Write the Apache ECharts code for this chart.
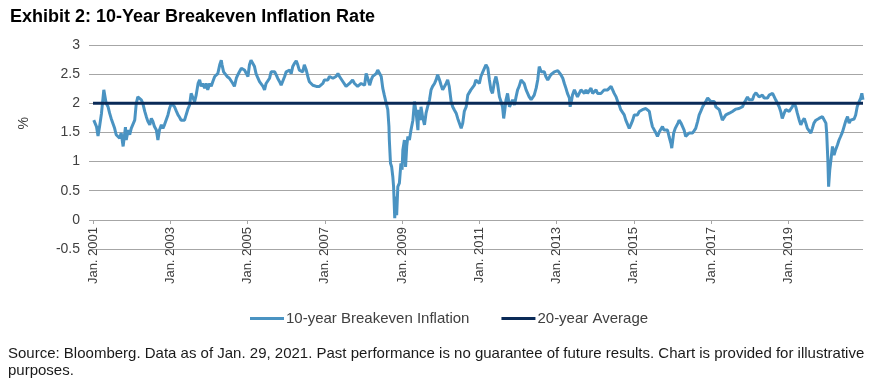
<!DOCTYPE html>
<html>
<head>
<meta charset="utf-8">
<script src="https://cdn.jsdelivr.net/npm/echarts@6/dist/echarts.min.js"></script>
<style>
html,body{margin:0;padding:0;background:#fff;}
#chart{width:873px;height:382px;}
</style>
</head>
<body>
<div id="chart"></div>
<script>
// ---- DATA (x = decimal year, y = %) ----
const be2001 = [[2001.02,1.71],[2001.09,1.60],[2001.13,1.44],[2001.17,1.60],[2001.22,1.83],[2001.28,2.23],[2001.32,2.22],[2001.34,2.00],[2001.39,1.94],[2001.43,1.83],[2001.47,1.74],[2001.52,1.71],[2001.56,1.57],[2001.60,1.46],[2001.65,1.49],[2001.69,1.40],[2001.73,1.49],[2001.78,1.26],[2001.80,1.37],[2001.84,1.59],[2001.86,1.37],[2001.91,1.54],[2001.95,1.46],[2001.99,1.57],[2002.03,1.54],[2002.08,1.71],[2002.12,2.00],[2002.16,2.11],[2002.21,2.09],[2002.25,2.06],[2002.29,2.00],[2002.34,1.86],[2002.38,1.77],[2002.42,1.69],[2002.47,1.63],[2002.51,1.74],[2002.55,1.69],[2002.59,1.60],[2002.64,1.54],[2002.68,1.37],[2002.72,1.54],[2002.77,1.63],[2002.81,1.57],[2002.85,1.63],[2002.90,1.60],[2002.94,1.80],[2002.98,1.91],[2003.03,2.00],[2003.07,2.03],[2003.11,1.94],[2003.16,1.86],[2003.20,1.80],[2003.24,1.76],[2003.28,1.71],[2003.33,1.69],[2003.37,1.71],[2003.41,1.80],[2003.46,1.91],[2003.50,1.97],[2003.54,2.17],[2003.59,2.09],[2003.63,2.03],[2003.67,2.14],[2003.72,2.34],[2003.76,2.40],[2003.80,2.29],[2003.84,2.34],[2003.89,2.26],[2003.93,2.34],[2003.97,2.23],[2004.02,2.34],[2004.06,2.29],[2004.10,2.37],[2004.15,2.46],[2004.19,2.49],[2004.23,2.51],[2004.28,2.66],[2004.32,2.74],[2004.34,2.66],[2004.38,2.54],[2004.42,2.51],[2004.47,2.46],[2004.53,2.43],[2004.58,2.40],[2004.62,2.34],[2004.66,2.29],[2004.71,2.43],[2004.75,2.49],[2004.79,2.54],[2004.84,2.60],[2004.88,2.63],[2004.92,2.57],[2004.97,2.51],[2005.01,2.46],[2005.05,2.66],[2005.09,2.74],[2005.14,2.71],[2005.18,2.63],[2005.22,2.51],[2005.27,2.43],[2005.31,2.37],[2005.35,2.34],[2005.40,2.29],[2005.44,2.23],[2005.48,2.34],[2005.53,2.37],[2005.57,2.43],[2005.61,2.54],[2005.66,2.51],[2005.70,2.54],[2005.74,2.49],[2005.78,2.43],[2005.83,2.37],[2005.87,2.31]];
const be2006 = [[2005.91,2.29],[2005.96,2.46],[2006.00,2.54],[2006.04,2.51],[2006.09,2.57],[2006.13,2.51],[2006.17,2.63],[2006.22,2.69],[2006.26,2.73],[2006.30,2.66],[2006.34,2.57],[2006.39,2.60],[2006.43,2.54],[2006.47,2.66],[2006.52,2.57],[2006.56,2.46],[2006.60,2.37],[2006.65,2.34],[2006.69,2.31],[2006.73,2.34],[2006.78,2.29],[2006.82,2.29],[2006.86,2.29],[2006.91,2.31],[2006.95,2.34],[2006.99,2.40],[2007.03,2.37],[2007.08,2.40],[2007.12,2.46],[2007.16,2.49],[2007.21,2.43],[2007.25,2.40],[2007.29,2.46],[2007.34,2.51],[2007.38,2.46],[2007.42,2.43],[2007.47,2.37],[2007.51,2.34],[2007.55,2.29],[2007.59,2.31],[2007.64,2.34],[2007.68,2.31],[2007.72,2.40],[2007.77,2.34],[2007.81,2.37],[2007.85,2.29],[2007.90,2.26],[2007.94,2.34],[2007.98,2.37],[2008.03,2.31],[2008.07,2.51],[2008.11,2.43],[2008.16,2.31],[2008.20,2.40],[2008.24,2.46],[2008.28,2.49],[2008.33,2.51],[2008.37,2.57],[2008.41,2.54],[2008.46,2.46],[2008.50,2.26],[2008.54,2.14],[2008.59,2.00],[2008.63,1.89],[2008.66,1.60],[2008.67,1.37],[2008.70,0.97],[2008.73,0.91],[2008.76,0.74],[2008.78,0.57],[2008.81,0.03],[2008.83,0.29],[2008.84,0.40],[2008.86,0.08],[2008.89,0.57],[2008.93,0.63],[2008.97,0.97],[2009.00,0.86],[2009.02,1.20],[2009.06,1.37],[2009.09,0.91],[2009.12,1.26],[2009.15,1.43],[2009.19,1.37],[2009.23,1.54],[2009.28,1.71],[2009.32,2.03],[2009.36,1.86],[2009.41,1.54],[2009.43,1.89],[2009.47,1.71],[2009.49,1.94],[2009.53,1.77],[2009.58,1.63],[2009.62,1.83],[2009.66,1.94],[2009.71,2.06],[2009.75,2.23],[2009.79,2.29],[2009.84,2.34],[2009.88,2.40],[2009.92,2.49],[2009.97,2.40],[2010.01,2.31],[2010.05,2.23],[2010.09,2.26],[2010.14,2.34],[2010.18,2.40],[2010.22,2.29],[2010.27,2.03],[2010.31,1.94],[2010.35,1.89],[2010.40,1.83],[2010.44,1.74],[2010.48,1.71],[2010.53,1.57],[2010.57,1.66],[2010.61,1.86],[2010.66,1.94],[2010.70,2.14],[2010.74,2.11],[2010.78,2.23],[2010.83,2.20],[2010.87,2.31],[2010.91,2.40]];
const be2011 = [[2011.00,2.34],[2011.04,2.46],[2011.09,2.54],[2011.13,2.60],[2011.17,2.66],[2011.22,2.60],[2011.26,2.40],[2011.30,2.23],[2011.34,2.17],[2011.39,2.37],[2011.43,2.46],[2011.47,2.34],[2011.52,2.11],[2011.56,2.03],[2011.60,1.94],[2011.63,1.74],[2011.66,1.89],[2011.69,2.06],[2011.73,2.17],[2011.78,1.94],[2011.82,1.97],[2011.86,2.06],[2011.91,1.97],[2011.95,2.11],[2011.99,2.23],[2012.03,2.29],[2012.08,2.40],[2012.12,2.43],[2012.16,2.34],[2012.21,2.23],[2012.25,2.20],[2012.29,2.11],[2012.34,2.06],[2012.38,2.09],[2012.42,2.14],[2012.47,2.26],[2012.51,2.40],[2012.55,2.63],[2012.60,2.54],[2012.64,2.51],[2012.68,2.54],[2012.72,2.46],[2012.77,2.40],[2012.81,2.43],[2012.85,2.49],[2012.90,2.51],[2012.94,2.54],[2012.98,2.57],[2013.03,2.56],[2013.07,2.54],[2013.11,2.49],[2013.16,2.43],[2013.20,2.34],[2013.24,2.26],[2013.28,2.17],[2013.33,2.09],[2013.35,1.94],[2013.39,2.06],[2013.41,2.14],[2013.46,2.23],[2013.50,2.23],[2013.54,2.11],[2013.59,2.14],[2013.63,2.23],[2013.67,2.20],[2013.72,2.17],[2013.76,2.23],[2013.80,2.17],[2013.85,2.20],[2013.89,2.26],[2013.93,2.17],[2013.97,2.20],[2014.02,2.23],[2014.06,2.17],[2014.10,2.20],[2014.15,2.17],[2014.19,2.20],[2014.23,2.23],[2014.28,2.20],[2014.32,2.23],[2014.36,2.26],[2014.41,2.29],[2014.45,2.26],[2014.49,2.17],[2014.54,2.11],[2014.58,2.03],[2014.62,1.97],[2014.66,1.89],[2014.71,1.89],[2014.75,1.80],[2014.79,1.71],[2014.84,1.69],[2014.88,1.57],[2014.92,1.63],[2014.97,1.71],[2015.01,1.80],[2015.05,1.83],[2015.09,1.80],[2015.14,1.86],[2015.18,1.89],[2015.22,1.89],[2015.27,1.86],[2015.31,1.91],[2015.35,1.91],[2015.40,1.86],[2015.44,1.71],[2015.48,1.60],[2015.53,1.57],[2015.57,1.49],[2015.61,1.43],[2015.66,1.51],[2015.70,1.54],[2015.74,1.60],[2015.78,1.54],[2015.83,1.51],[2015.87,1.54],[2015.91,1.43],[2015.96,1.31],[2015.98,1.23]];
const be2016 = [[2016.03,1.49],[2016.07,1.57],[2016.10,1.60],[2016.14,1.66],[2016.17,1.71],[2016.22,1.66],[2016.26,1.60],[2016.30,1.54],[2016.34,1.43],[2016.39,1.46],[2016.43,1.49],[2016.47,1.46],[2016.52,1.49],[2016.56,1.51],[2016.60,1.57],[2016.65,1.69],[2016.69,1.80],[2016.73,1.86],[2016.78,1.94],[2016.82,1.97],[2016.86,2.03],[2016.91,2.09],[2016.95,2.06],[2016.99,2.03],[2017.03,2.06],[2017.08,2.03],[2017.12,1.94],[2017.16,1.91],[2017.21,1.89],[2017.25,1.80],[2017.29,1.71],[2017.34,1.74],[2017.38,1.80],[2017.42,1.77],[2017.47,1.83],[2017.51,1.86],[2017.55,1.86],[2017.59,1.89],[2017.64,1.90],[2017.68,1.89],[2017.72,1.91],[2017.77,1.91],[2017.81,1.94],[2017.85,2.00],[2017.90,2.06],[2017.94,2.11],[2017.98,2.06],[2018.03,2.09],[2018.07,2.06],[2018.11,2.14],[2018.16,2.18],[2018.20,2.17],[2018.24,2.11],[2018.28,2.09],[2018.33,2.14],[2018.37,2.09],[2018.41,2.11],[2018.46,2.09],[2018.50,2.14],[2018.54,2.11],[2018.59,2.17],[2018.63,2.14],[2018.67,2.06],[2018.72,2.03],[2018.76,1.94],[2018.80,1.86],[2018.84,1.74],[2018.89,1.83],[2018.93,1.89],[2018.97,1.91],[2019.02,1.86],[2019.06,1.89],[2019.10,1.94],[2019.15,2.00],[2019.19,1.94],[2019.23,1.83],[2019.28,1.71],[2019.32,1.63],[2019.36,1.69],[2019.41,1.74],[2019.45,1.66],[2019.49,1.57],[2019.53,1.54],[2019.58,1.49],[2019.62,1.57],[2019.66,1.66],[2019.71,1.71],[2019.75,1.71],[2019.79,1.74],[2019.84,1.74],[2019.88,1.77],[2019.92,1.74],[2019.97,1.66],[2019.99,1.49],[2020.02,1.03],[2020.04,0.57],[2020.07,0.86],[2020.09,0.97],[2020.14,1.26],[2020.18,1.11],[2020.22,1.20],[2020.27,1.29],[2020.31,1.37],[2020.35,1.43],[2020.40,1.51],[2020.44,1.60],[2020.48,1.69],[2020.53,1.77],[2020.57,1.66],[2020.61,1.71],[2020.66,1.74],[2020.70,1.73],[2020.74,1.80],[2020.78,1.94],[2020.83,2.03],[2020.87,2.09],[2020.90,2.17],[2020.93,2.06]];
const avgValue = 2.0;
const xStart = 2001, xEnd = 2020.93;
const xTickYears = [2001, 2003, 2005, 2007, 2009, 2011, 2013, 2015, 2017, 2019];
const yTicks = [-0.5, 0, 0.5, 1, 1.5, 2, 2.5, 3];
const seriesNames = ['10-year Breakeven Inflation', '20-year Average'];
const titleText = 'Exhibit 2: 10-Year Breakeven Inflation Rate';
const yName = '%';
const sourceText = 'Source: Bloomberg. Data as of Jan. 29, 2021. Past performance is no guarantee of future results. Chart is provided for illustrative\npurposes.';

const breakeven = be2001.concat(be2006, be2011, be2016);
const avgLine = [[xStart, avgValue], [xEnd, avgValue]];

const FONT = "'Liberation Sans', Arial, sans-serif";
const chart = echarts.init(document.getElementById('chart'), null, {renderer: 'canvas'});
chart.setOption({
  backgroundColor: '#ffffff',
  animation: false,
  textStyle: {fontFamily: FONT},
  title: {
    text: titleText, left: 5, top: 3,
    textStyle: {fontFamily: FONT, fontSize: 18, fontWeight: 'bold', color: '#000000'}
  },
  legend: {
    data: seriesNames, left: 250, top: 311, padding: 0,
    icon: 'rect', itemWidth: 34, itemHeight: 3, itemGap: 32,
    textStyle: {fontFamily: FONT, fontSize: 15, color: '#404040', padding: [0, 0, 0, -3]}
  },
  grid: {left: 93, right: 10, top: 45, bottom: 133, containLabel: false},
  xAxis: {
    type: 'value', min: xStart, max: xEnd, interval: 2,
    offset: -29,
    axisLine: {show: true, onZero: false, lineStyle: {color: '#a6a6a6', width: 1}},
    axisTick: {show: true, length: 4, lineStyle: {color: '#a6a6a6'}},
    splitLine: {show: false},
    axisLabel: {
      rotate: 90, margin: 7, fontFamily: FONT, fontSize: 13, color: '#404040',
      showMaxLabel: false,
      formatter: function (v) { return xTickYears.indexOf(Math.round(v * 100) / 100) >= 0 ? 'Jan. ' + v : ''; }
    }
  },
  yAxis: {
    type: 'value', min: yTicks[0], max: yTicks[yTicks.length - 1], interval: 0.5,
    axisLine: {show: false},
    axisTick: {show: true, length: 4, lineStyle: {color: '#a6a6a6'}},
    splitLine: {show: true, lineStyle: {color: '#a6a6a6', width: 1}},
    axisLabel: {margin: 13, fontFamily: FONT, fontSize: 14, color: '#404040'}
  },
  graphic: [
    {type: 'text', left: 17, top: 117, rotation: Math.PI / 2,
     style: {text: yName, fontFamily: FONT, fontSize: 14, fill: '#404040'}},
    {type: 'text', left: 8, top: 345,
     style: {text: sourceText, fontFamily: FONT, fontSize: 15, lineHeight: 17, fill: '#1a1a1a'}}
  ],
  series: [
    {name: seriesNames[0], type: 'line', data: breakeven, showSymbol: false, symbol: 'none',
     lineStyle: {color: '#4a93c2', width: 3}, itemStyle: {color: '#4a93c2'}, z: 2},
    {name: seriesNames[1], type: 'line', data: avgLine, showSymbol: false, symbol: 'none',
     lineStyle: {color: '#0a2a57', width: 3}, itemStyle: {color: '#0a2a57'}, z: 3}
  ]
});
</script>
</body>
</html>
